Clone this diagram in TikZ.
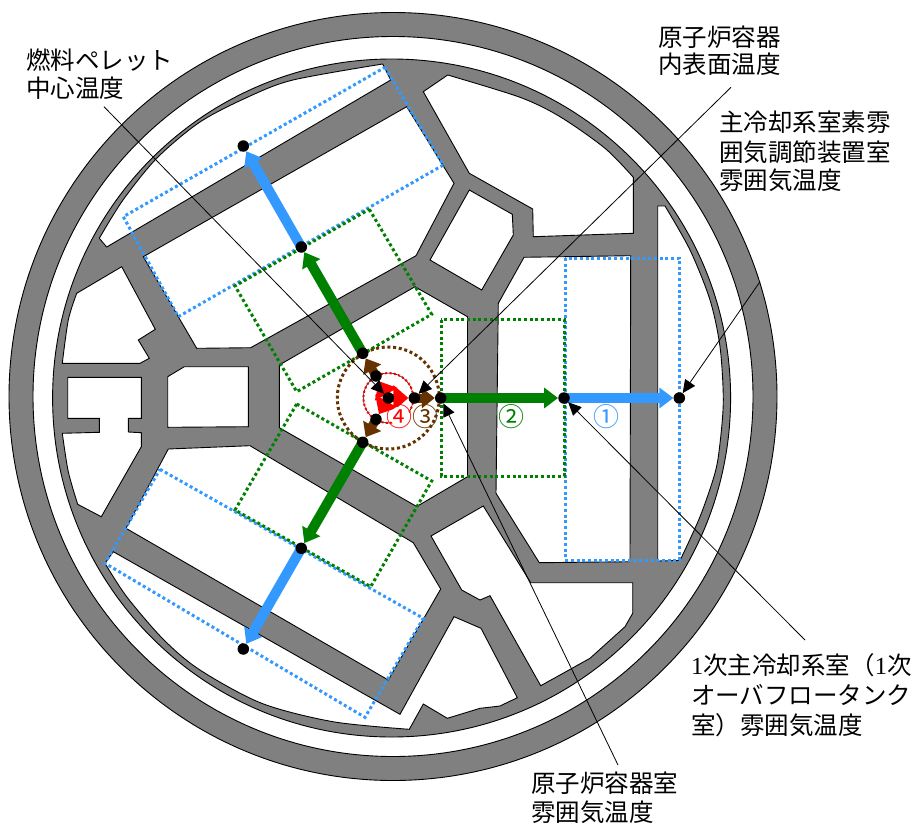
\documentclass[tikz,border=0pt]{standalone}
\usepackage{fontspec}
\setmainfont{Liberation Serif}
\newfontfamily\cjk{Noto Sans CJK JP}
\usetikzlibrary{arrows.meta}
\pgfdeclarelayer{back}
\pgfdeclarelayer{mid}
\pgfsetlayers{back,mid,main}
\definecolor{cblue}{HTML}{3399FF}
\definecolor{cgreen}{HTML}{008000}
\definecolor{cbrown}{HTML}{663300}
\definecolor{cgray}{HTML}{808080}
\tikzset{
 room/.style={draw=black,line width=0.9pt,fill=white,line join=miter},
 blockfill/.style={draw=black,line width=0.9pt,fill=cgray},
 bluebox/.style={draw=cblue,line width=3pt,dash pattern=on 3pt off 2.7pt},
 greenbox/.style={draw=cgreen,line width=3pt,dash pattern=on 3pt off 2.7pt},
 browncirc/.style={draw=cbrown,line width=3pt,dash pattern=on 3pt off 2.7pt},
 redcirc/.style={draw=red,line width=2pt,dash pattern=on 2.2pt off 2.2pt},
 dot/.style={circle,fill=black,inner sep=0pt,minimum size=11.5pt},
 bluearrow/.style={draw=cblue,line width=10pt,-{Triangle[length=14pt,width=20pt]}},
 greenarrow/.style={draw=cgreen,line width=10pt,-{Triangle[length=14pt,width=20pt]}},
 brownarrow/.style={draw=cbrown,line width=9pt,-{Triangle[length=13pt,width=20pt]}},
 redarrow/.style={draw=red,line width=8pt,-{Triangle[length=15pt,width=25pt]}},
 leader/.style={draw=black,line width=0.8pt,-{Triangle[length=13pt,width=12pt]}},
 lab/.style={anchor=base west,inner sep=0pt,font=\fontsize{24.5pt}{29pt}\selectfont\cjk},
 num/.style={inner sep=0pt,font=\fontsize{26pt}{29pt}\selectfont\cjk},
}
\begin{document}
\begin{tikzpicture}[x=1pt,y=-1pt]
\useasboundingbox (0,0) rectangle (915,825);
\begin{pgfonlayer}{back}
% shell
\draw[blockfill,even odd rule] (393,396.5) circle[radius=384] (393,396.5) circle[radius=360];
\draw[blockfill] (391.6,398) circle[radius=339];
% rooms
\draw[room] (99.3,238.3) -- (106.7,247) -- (390.7,80) -- (382.7,64) -- plot[smooth] coordinates {(382.7,64) (293,80) (248,97) (200,122) (157,158) (123,200) (99.3,238.3)} -- cycle;
\draw[room] (143.3,256.7) -- (406.7,106.7) -- (454,183.3) -- (416,255.7) -- (250.7,347.7) -- (196.7,348.3) -- cycle;
\draw[room] (62.3,363.3) -- (140,363.3) -- (149.3,358.3) -- (138.3,340) -- (155.3,329.3) -- (121.7,266.7) -- (76.7,293.3) -- plot[smooth] coordinates {(76.7,293.3) (68.3,320) (62.3,363.3)} -- cycle;
\draw[room] (67.7,377.3) -- (141.3,377.3) -- (141.3,418.3) -- (128.3,418.3) -- (128.3,432) -- (141.3,432.7) -- (141.3,446.7) -- (101.3,516.7) -- (77.7,504.3) -- plot[smooth] coordinates {(77.7,504.3) (68.3,471.7) (62.3,433.3)} -- (99.3,432.3) -- (99.3,418.3) -- (67.7,418.3) -- cycle;
\draw[room] (184.3,366.7) -- (248.3,366.7) -- (248.3,426.7) -- (167.7,427.3) -- (167.7,376.7) -- cycle;
\draw[room] (279.3,365) -- (415,286.7) -- (467.5,316.7) -- (467.5,476.7) -- (416.7,506.5) -- (279.3,427.7) -- cycle;
\draw[room] (469.3,190) -- (512.3,214.3) -- (513.3,235) -- (481.7,290) -- (430,260) -- cycle;
\draw[room] (423.3,91.7) -- (447.7,75) -- plot[smooth] coordinates {(447.7,75) (520,97.3) (560,116.7) (605,148.3) (633.3,177.3)} -- (633.3,233.3) -- (533.3,236.7) -- (532.7,209) -- (469.3,173.3) -- cycle;
\draw[room] (524,257.3) -- (630.7,255.7) -- (630,561.7) -- (539.3,562.7) -- (496,493.3) -- (498.3,303.3) -- cycle;
\draw[room] (657.7,206) -- (665,206) -- plot[smooth] coordinates {(665,206) (690,250) (710,300) (720,346.7) (723.3,400) (720,443.3) (715,473) (700,516.7) (680,560.5)} -- (657.7,561) -- cycle;
\draw[room] (530.7,582.7) -- (632.7,582.7) -- (632.7,613.3) -- (625,626.7) -- (590,658.3) -- (540.7,685.7) -- (490,595.7) -- (480,600) -- (461.7,590) -- (431,536) -- (483.3,506) -- cycle;
\draw[room] (113.3,551.7) -- (400,714.3) -- (454,616.7) -- (481,628.3) -- (517.3,697.7) -- (500,706) -- (480,708.3) -- (447.3,718.3) -- (423.3,704) -- (409.3,729.3) -- plot[smooth] coordinates {(409.3,729.3) (333,721.7) (261.7,703.3) (200,670) (163.3,639.3) (126.7,596.7) (105,563.3)} -- cycle;
\draw[room] (168.3,449) -- (250,445.7) -- (413.3,542.7) -- (440.7,589) -- (388.3,680) -- (126,528.3) -- cycle;
% dotted zones
\draw[bluebox] (565,258) rectangle (679.5,560);
\draw[bluebox] (385,67.3) -- (443.3,165) -- (178.3,316.7) -- (123.3,216.7) -- cycle;
\draw[bluebox] (160,469.3) -- (423.3,618.3) -- (365,717.3) -- (105,563.3) -- cycle;
\draw[greenbox] (441,319.5) rectangle (564,476);
\draw[greenbox] (369.3,209.3) -- (431.7,314.3) -- (296.7,391.7) -- (235,286) -- cycle;
\draw[greenbox] (296.7,404) -- (431.7,481) -- (370.7,586.7) -- (235,510) -- cycle;
\draw[browncirc] (388.3,398) circle[radius=51];
\draw[draw=black,line width=0.5pt] (388.3,398) circle[radius=25];
\draw[redcirc] (388.3,398) circle[radius=25];
\end{pgfonlayer}
% level dots
\node[dot] (c) at (388.3,398) {};
\node[dot] (e1) at (414.3,398) {};
\node[dot] (e2) at (440.7,398) {};
\node[dot] (e3) at (564,398) {};
\node[dot] (e4) at (679.3,398) {};
\node[dot] (nwa) at (376,376) {};
\node[dot] (nwb) at (362.7,353.3) {};
\node[dot] (nwc) at (301.3,247) {};
\node[dot] (nwd) at (243.3,146) {};
\node[dot] (swa) at (376,419.3) {};
\node[dot] (swb) at (362.7,442.3) {};
\node[dot] (swc) at (301.3,548.3) {};
\node[dot] (swd) at (243.3,649) {};
% heat path arrows
\begin{pgfonlayer}{mid}
\draw[redarrow] (c.center) -- (e1);
\draw[redarrow] (c.center) -- (nwa);
\draw[redarrow] (c.center) -- (swa);
\draw[brownarrow] (e1.center) -- (e2);
\draw[brownarrow] (nwa.center) -- (nwb);
\draw[brownarrow] (swa.center) -- (swb);
\draw[greenarrow] (e2.center) -- (e3);
\draw[greenarrow] (nwb.center) -- (nwc);
\draw[greenarrow] (swb.center) -- (swc);
\draw[bluearrow] (e3.center) -- (e4);
\draw[bluearrow] (nwc.center) -- (nwd);
\draw[bluearrow] (swc.center) -- (swd);
\fill[white] (400,416.5) circle[radius=10];
\end{pgfonlayer}
% circled numbers
\node[num,text=cblue] (n1) at (606,416.7) {①};
\node[num,text=cgreen] (n2) at (511.7,416.7) {②};
\node[num,text=cbrown] (n3) at (425.5,416.5) {③};
\node[num,text=red] (n4) at (399.5,416.5) {④};
% labels
\node[lab] (l1a) at (26,69) {燃料ペレット};
\node[lab] (l1b) at (26,97) {中心温度};
\node[lab] (l2a) at (658,46) {原子炉容器};
\node[lab] (l2b) at (658,73) {内表面温度};
\node[lab] (l3a) at (719,131) {主冷却系室素雰};
\node[lab] (l3b) at (719,161) {囲気調節装置室};
\node[lab] (l3c) at (719,189) {雰囲気温度};
\node[lab] (l4a) at (691,674) {{\rmfamily 1}次主冷却系室（{\rmfamily 1}次};
\node[lab] (l4b) at (691,704) {オーバフロータンク};
\node[lab] (l4c) at (691,734) {室）雰囲気温度};
\node[lab] (l5a) at (531,792) {原子炉容器室};
\node[lab] (l5b) at (531,821) {雰囲気温度};
% leaders
\coordinate (f1) at (104,106.7);
\coordinate (f2) at (731,87.3);
\coordinate (f3) at (760,281.7);
\coordinate (f4) at (805,640);
\coordinate (f5) at (618,765);
\draw[leader] (f1) -- (c);
\draw[leader] (f2) -- (e1);
\draw[leader] (f3) -- (e4);
\draw[leader] (f4) -- (e3);
\draw[leader] (f5) -- (e2);
\end{tikzpicture}
\end{document}
